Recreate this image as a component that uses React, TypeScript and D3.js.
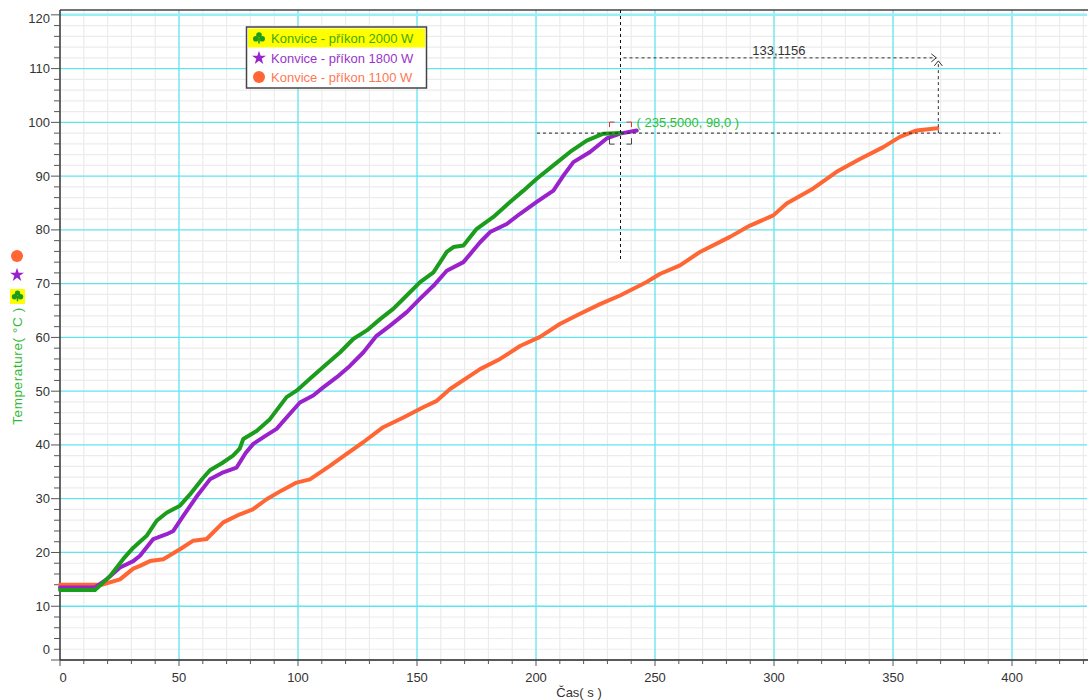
import React from "react";
import * as d3 from "d3";

// Heating curves of three kettles: time (s) vs. water temperature (°C)
const seriesNames = ["Konvice - příkon 2000 W", "Konvice - příkon 1800 W", "Konvice - příkon 1100 W"];

const time2000 = [0, 14.7, 21, 26.6, 30.8, 36.4, 40.6, 44.8, 50.4, 54.6, 60, 63, 68, 72.7, 75.5, 77, 82.6, 88.2, 95.2, 99.4, 105, 110.6, 117.6, 123.2, 128.9, 134.5, 140, 144.3, 151.3, 156.9, 162.5, 165.3, 169.5, 175.1, 182.1, 189.1, 194.7, 200.3, 207.3, 214.3, 221.3, 228.3, 235.5];
const temp2000 = [13.0, 13.0, 15.6, 18.8, 20.9, 23.1, 25.9, 27.4, 28.7, 30.8, 33.8, 35.3, 36.6, 38.0, 39.3, 41.1, 42.6, 44.8, 48.9, 50.1, 52.3, 54.5, 57.2, 59.7, 61.3, 63.4, 65.3, 67.2, 70.3, 72.1, 75.9, 76.8, 77.1, 80.2, 82.4, 85.2, 87.3, 89.5, 92.0, 94.5, 96.6, 97.9, 98.0];

const time1800 = [0, 14.7, 19.6, 25.2, 30.8, 33.6, 39.2, 44.8, 47.6, 51.8, 57.4, 63, 68, 74.2, 78, 81.2, 86, 91, 96.6, 100.8, 106.4, 110.6, 116.3, 121.8, 127.4, 133, 138.7, 145.7, 151.3, 156.9, 162.5, 169.5, 176.5, 180.7, 187.7, 193.3, 200.3, 207.3, 211.5, 215.7, 222.7, 229.7, 235.3, 242.3];
const temp1800 = [13.5, 13.5, 15.0, 17.2, 18.4, 19.4, 22.5, 23.4, 24.0, 26.8, 30.4, 33.6, 34.8, 35.8, 38.5, 40.2, 41.6, 43.0, 45.8, 47.9, 49.2, 50.7, 52.6, 54.7, 57.2, 60.3, 62.2, 64.7, 67.2, 69.6, 72.4, 74.0, 77.7, 79.6, 81.1, 83.0, 85.2, 87.3, 90.1, 92.6, 94.5, 97.0, 97.9, 98.5];

const time1100 = [0, 17.5, 25.2, 30.8, 33.6, 37.8, 43.4, 50.4, 56, 61.6, 68.6, 75.6, 81, 86.8, 93, 99.4, 105, 113.4, 120, 127.4, 135.8, 144.3, 152.6, 158.3, 163.9, 170, 176.5, 184.9, 193.3, 201.7, 210, 218.5, 226.9, 235.3, 246.5, 252, 260.5, 268.9, 281.5, 289.9, 299.7, 305.3, 316.5, 326.3, 336.1, 345.9, 352.9, 359.9, 368.6];
const temp1100 = [14.0, 14.0, 15.0, 17.0, 17.5, 18.4, 18.75, 20.6, 22.2, 22.5, 25.6, 27.1, 28.0, 29.9, 31.5, 33.0, 33.6, 36.1, 38.2, 40.5, 43.3, 45.1, 47.0, 48.2, 50.4, 52.2, 54.1, 56.0, 58.4, 60.1, 62.5, 64.4, 66.2, 67.8, 70.3, 71.8, 73.4, 75.9, 78.7, 80.8, 82.7, 84.9, 87.7, 90.8, 93.2, 95.4, 97.3, 98.5, 98.9];

// Tick values
const xMajorTicks = [0, 50, 100, 150, 200, 250, 300, 350, 400];
const yMajorTicks = [0, 10, 20, 30, 40, 50, 60, 70, 80, 90, 100, 110, 120];

// Marker readout and the difference measured between the two 98 °C points
const markerTime = 235.5;
const markerTemp = 98.0;
const deltaTime = 133.1156;
const markerLabel = "( 235,5000, 98,0 )";
const deltaLabel = "133,1156";

const W = 1088;
const H = 700;
const left = 60;
const right = 1087;
const top = 10;
const bottom = 660;

const FONT = "'Liberation Sans', Arial, sans-serif";
const FS = 13;
const C_GREEN = "#1c9c1c";
const C_PURPLE = "#9a22cc";
const C_ORANGE = "#ff6633";

function Clover({ x, y, color, s = 1 }: { x: number; y: number; color: string; s?: number }) {
  return (
    <g transform={`translate(${x},${y}) scale(${s})`} fill={color}>
      <circle cx={0} cy={-3} r={2.8} />
      <circle cx={-3.2} cy={0.8} r={2.8} />
      <circle cx={3.2} cy={0.8} r={2.8} />
      <rect x={-0.8} y={0} width={1.6} height={5.5} />
    </g>
  );
}

export default function App() {
  const x = d3.scaleLinear().domain([0, 431.5]).range([left, right]);
  const y = d3.scaleLinear().domain([0, 120.9]).range([bottom, top]);

  const line = d3
    .line<[number, number]>()
    .x((d) => x(d[0]))
    .y((d) => y(d[1]));

  const zip = (t: number[], v: number[]) => t.map((ti, i) => [ti, v[i]] as [number, number]);
  const series = [
    { name: seriesNames[2], color: C_ORANGE, data: zip(time1100, temp1100) },
    { name: seriesNames[1], color: C_PURPLE, data: zip(time1800, temp1800) },
    { name: seriesNames[0], color: C_GREEN, data: zip(time2000, temp2000) },
  ];

  const xMinor = d3.range(0, 431, 10);
  const yMinor = d3.range(0, 121, 2);

  const star = d3.symbol().type(d3.symbolStar).size(60)() as string;

  const mx = x(markerTime);
  const my = y(markerTemp);
  const ex = x(markerTime + deltaTime);
  const arrowY = y(112);

  return (
    <div style={{ position: "absolute", left: 0, top: 0 }}>
      <svg width={W} height={H} style={{ display: "block", background: "#ffffff" }} fontFamily={FONT}>
        {/* minor grid */}
        {xMinor.filter((v) => v % 50 !== 0).map((v) => (
          <line key={"xm" + v} x1={x(v)} x2={x(v)} y1={top} y2={bottom} stroke="#ececec" strokeWidth={1.2} />
        ))}
        {yMinor.filter((v) => v % 10 !== 0).map((v) => (
          <line key={"ym" + v} x1={left} x2={right} y1={y(v)} y2={y(v)} stroke="#ececec" strokeWidth={1.2} />
        ))}
        {/* major grid */}
        {xMajorTicks.filter((v) => v > 0).map((v) => (
          <line key={"xM" + v} x1={x(v)} x2={x(v)} y1={top} y2={bottom} stroke="#62e4ef" strokeWidth={1.3} />
        ))}
        {yMajorTicks.filter((v) => v > 0).map((v) => (
          <line
            key={"yM" + v}
            x1={left}
            x2={right}
            y1={y(v)}
            y2={y(v)}
            stroke={v === 120 ? "#9aeef5" : "#62e4ef"}
            strokeWidth={v === 120 ? 2.5 : 1.3}
          />
        ))}

        {/* frame */}
        <line x1={left} x2={right + 1} y1={top} y2={top} stroke="#444" strokeWidth={1.5} />
        <line x1={left} x2={left} y1={top} y2={bottom} stroke="#333" strokeWidth={1.5} />
        <line x1={left} x2={right + 1} y1={bottom} y2={bottom} stroke="#222" strokeWidth={1.5} />

        {/* y ticks */}
        {yMinor.map((v) => (
          <line key={"yt" + v} x1={v % 10 === 0 ? 51 : 54} x2={left} y1={y(v)} y2={y(v)} stroke="#555" strokeWidth={1} />
        ))}
        {yMajorTicks.map((v) => (
          <text
            key={"yl" + v}
            x={50}
            y={Math.max(18, Math.min(y(v), y(0) - 11))}
            dy="0.35em"
            textAnchor="end"
            fontSize={FS}
            fill="#333"
          >
            {v}
          </text>
        ))}

        {/* x ticks */}
        {xMinor.map((v) => (
          <line key={"xt" + v} x1={x(v)} x2={x(v)} y1={bottom} y2={bottom + (v % 50 === 0 ? 6 : 4)} stroke="#555" strokeWidth={1} />
        ))}
        {xMajorTicks.map((v) => (
          <text key={"xl" + v} x={x(v) + (v === 0 ? 3 : 0)} y={682} textAnchor="middle" fontSize={FS} fill="#333">
            {v}
          </text>
        ))}
        <text x={579} y={697} textAnchor="middle" fontSize={FS} fill="#333">
          Čas( s )
        </text>

        {/* y axis title with series symbols */}
        <text
          transform={`translate(22,366) rotate(-90)`}
          textAnchor="middle"
          fontSize={13.5}
          letterSpacing={0.6}
          fill="#33b833"
        >
          Temperature( °C )
        </text>
        <circle cx={17} cy={256} r={6} fill={C_ORANGE} />
        <path d={star} transform="translate(17,275)" fill={C_PURPLE} />
        <rect x={10} y={289} width={15} height={15} fill="#ffff00" />
        <Clover x={17.5} y={296} color={C_GREEN} s={0.95} />

        {/* curves */}
        {series.map((s) => (
          <path
            key={s.name}
            d={line(s.data) as string}
            fill="none"
            stroke={s.color}
            strokeWidth={4}
            strokeLinejoin="round"
            strokeLinecap="round"
          />
        ))}

        {/* marker crosshair */}
        <line x1={mx} x2={mx} y1={top} y2={y(74.2)} stroke="#111" strokeWidth={1} strokeDasharray="3,3" />
        <line x1={x(200.4)} x2={x(395)} y1={my} y2={my} stroke="#222" strokeWidth={1} strokeDasharray="3,3" />
        {/* corner brackets around the marker point */}
        <g fill="none" strokeWidth={1}>
          <path d={`M${mx - 11},${my - 6} V${my - 11} H${mx - 6}`} stroke="#e03030" />
          <path d={`M${mx + 6},${my - 11} H${mx + 11} V${my - 6}`} stroke="#e03030" />
          <path d={`M${mx - 11},${my + 5} V${my + 11} H${mx - 6}`} stroke="#444" />
          <path d={`M${mx + 6},${my + 11} H${mx + 11} V${my + 5}`} stroke="#444" />
        </g>
        <text x={mx + 16} y={127} fontSize={FS} fill="#33bb33">
          {markerLabel}
        </text>

        {/* time difference arrow */}
        <line x1={mx + 3} x2={ex - 1} y1={arrowY} y2={arrowY} stroke="#333" strokeWidth={1} strokeDasharray="3,3" />
        <path d={`M${ex - 6},${arrowY - 4} L${ex - 1},${arrowY} L${ex - 6},${arrowY + 4}`} fill="none" stroke="#333" strokeWidth={1} />
        <line x1={ex + 1} x2={ex + 1} y1={my} y2={arrowY + 4} stroke="#333" strokeWidth={1} strokeDasharray="3,3" />
        <path d={`M${ex - 3},${arrowY + 8} L${ex + 1},${arrowY + 3} L${ex + 5},${arrowY + 8}`} fill="none" stroke="#333" strokeWidth={1} />
        <text x={(mx + ex) / 2} y={55} textAnchor="middle" fontSize={FS} fill="#333">
          {deltaLabel}
        </text>

        {/* legend */}
        <g>
          <rect x={246.5} y={27} width={180} height={61} fill="#ffffff" stroke="#444" strokeWidth={1.5} />
          <rect x={248} y={28.5} width={177} height={19} fill="#ffff00" />
          <Clover x={259} y={38} color={C_GREEN} />
          <text x={271} y={42.5} fontSize={FS} fill="#44aa00">
            {seriesNames[0]}
          </text>
          <path d={star} transform="translate(259,58)" fill={C_PURPLE} />
          <text x={271} y={62.5} fontSize={FS} fill="#9933cc">
            {seriesNames[1]}
          </text>
          <circle cx={259} cy={77} r={6} fill={C_ORANGE} />
          <text x={271} y={81.5} fontSize={FS} fill="#ff7755">
            {seriesNames[2]}
          </text>
        </g>
      </svg>
    </div>
  );
}
